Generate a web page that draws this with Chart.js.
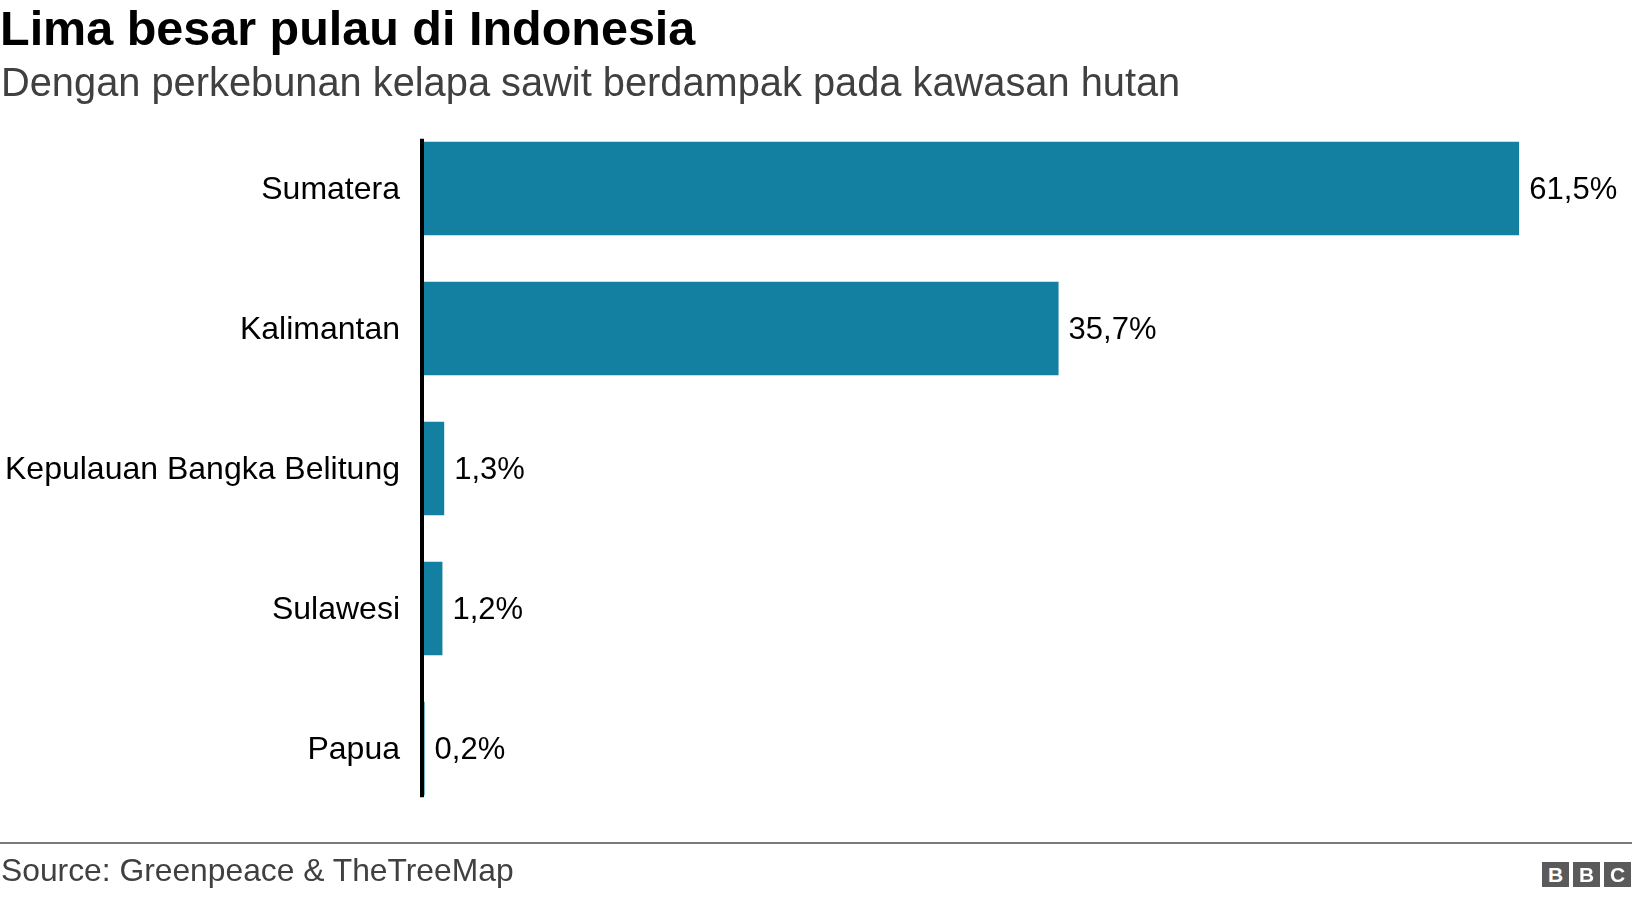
<!DOCTYPE html>
<html>
<head>
<meta charset="utf-8">
<script src="https://cdn.jsdelivr.net/npm/chart.js@4"></script>
<style>
  html, body { margin: 0; padding: 0; background: #fff; }
  body { width: 1632px; height: 898px; position: relative; overflow: hidden; font-family: "Liberation Sans", Arial, sans-serif; }
  .t { position: absolute; white-space: nowrap; line-height: 1; }
  #title { left: 0px; top: 4px; font-size: 48.5px; font-weight: bold; color: #000; }
  #subtitle { left: 1px; top: 63px; font-size: 39.8px; color: #404040; }
  #source { left: 1px; top: 855px; font-size: 31.8px; color: #404040; }
  #rule { position: absolute; left: 0; top: 842px; width: 1632px; height: 2px; background: #7a7a7a; }
  #wrap { position: absolute; left: 0; top: 0; width: 1632px; height: 898px; }
  .bbc { position: absolute; top: 862px; width: 27px; height: 25px; background: #5a5a5a; color: #fff; font-weight: bold; font-size: 21px; line-height: 25px; text-align: center; }
</style>
</head>
<body>
<div id="wrap"><canvas id="c" width="1632" height="898"></canvas></div>
<div class="t" id="title">Lima besar pulau di Indonesia</div>
<div class="t" id="subtitle">Dengan perkebunan kelapa sawit berdampak pada kawasan hutan</div>
<div id="rule"></div>
<div class="t" id="source">Source: Greenpeace &amp; TheTreeMap</div>
<div class="bbc" style="left:1542px">B</div>
<div class="bbc" style="left:1573px">B</div>
<div class="bbc" style="left:1604px">C</div>
<script>
const categories = ["Sumatera", "Kalimantan", "Kepulauan Bangka Belitung", "Sulawesi", "Papua"];
const shares = [61.5, 35.7, 1.3, 1.2, 0.2];
const shareLabels = ["61,5%", "35,7%", "1,3%", "1,2%", "0,2%"];

const FONT = '"Liberation Sans", Arial, sans-serif';

const valueLabels = {
  id: 'valueLabels',
  afterDatasetsDraw(chart) {
    const ctx = chart.ctx;
    const meta = chart.getDatasetMeta(0);
    ctx.save();
    ctx.font = '31px ' + FONT;
    ctx.fillStyle = '#000';
    ctx.textAlign = 'left';
    ctx.textBaseline = 'middle';
    meta.data.forEach((bar, i) => {
      ctx.fillText(shareLabels[i], bar.x + 10, bar.y + 1.5);
    });
    ctx.restore();
  }
};

const axisLine = {
  id: 'axisLine',
  afterDatasetsDraw(chart) {
    const ctx = chart.ctx;
    const meta = chart.getDatasetMeta(0);
    const first = meta.data[0], last = meta.data[meta.data.length - 1];
    const top = first.y - first.height / 2 - 3;
    const bottom = last.y + last.height / 2 + 2;
    ctx.save();
    ctx.strokeStyle = '#000';
    ctx.lineWidth = 4;
    ctx.beginPath();
    ctx.moveTo(chart.chartArea.left + 1, top);
    ctx.lineTo(chart.chartArea.left + 1, bottom);
    ctx.stroke();
    ctx.restore();
  }
};

new Chart(document.getElementById('c'), {
  type: 'bar',
  data: {
    labels: categories,
    datasets: [{
      data: shares,
      backgroundColor: '#1380A1',
      borderWidth: 0,
      categoryPercentage: 1,
      barPercentage: 0.669
    }]
  },
  options: {
    indexAxis: 'y',
    responsive: false,
    animation: false,
    events: [],
    layout: { padding: { top: 118.5, bottom: 79.5, left: 0, right: 112.7 } },
    plugins: { legend: { display: false }, tooltip: { enabled: false }, title: { display: false } },
    scales: {
      x: {
        min: 0, max: 61.5,
        display: false,
        grid: { display: false }
      },
      y: {
        grid: { display: false, drawTicks: false },
        border: { display: false },
        ticks: { color: '#000', font: { family: FONT, size: 32 }, padding: 21, labelOffset: 2 },
        afterFit(scale) { scale.width = 421; }
      }
    }
  },
  plugins: [valueLabels, axisLine]
});
</script>
</body>
</html>
